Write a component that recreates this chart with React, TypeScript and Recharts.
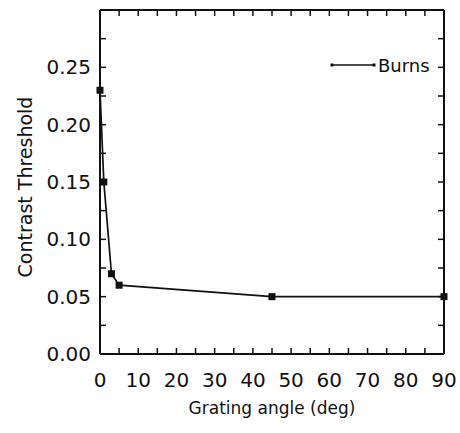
import { LineChart, Line, XAxis, YAxis, Legend, Label } from 'recharts'

// grating angle (deg) vs contrast threshold, Burns
const angles = [0, 1, 3, 5, 45, 90]
const thresholds = [0.23, 0.15, 0.07, 0.06, 0.05, 0.05]

const xTicks = [0, 5, 10, 15, 20, 25, 30, 35, 40, 45, 50, 55, 60, 65, 70, 75, 80, 85, 90]
const yTicks = [0, 0.025, 0.05, 0.075, 0.1, 0.125, 0.15, 0.175, 0.2, 0.225, 0.25, 0.275, 0.3]

const data = angles.map((a, i) => ({ angle: a, burns: thresholds[i] }))

const ink = '#111'
const font = '"DejaVu Sans", sans-serif'

const SquareDot = (props: any) => {
  const { cx, cy } = props
  if (cx == null || cy == null) return null
  return <rect x={cx - 3.5} y={cy - 3.5} width={7} height={7} fill={ink} />
}

const LegendBox = () => (
  <svg width={110} height={26} style={{ display: 'block', overflow: 'visible' }}>
    <line x1={2} y1={13} x2={44} y2={13} stroke={ink} strokeWidth={1.3} />
    <rect x={0.5} y={11.5} width={3} height={3} fill={ink} />
    <rect x={42.5} y={11.5} width={3} height={3} fill={ink} />
    <text x={48} y={13} dominantBaseline="central" fontSize={18} fontFamily={font} fill={ink}>
      Burns
    </text>
  </svg>
)

const xFmt = (v: number) => (v % 10 === 0 ? String(v) : '')
const yFmt = (v: number) => {
  const k = Math.round(v * 1000)
  return k % 50 === 0 && k < 290 ? v.toFixed(2) : ''
}

export default function App() {
  return (
    <div style={{ position: 'absolute', left: 0, top: 0, background: '#fff' }}>
      <LineChart
        width={460}
        height={433}
        data={data}
        margin={{ top: 9, right: 15, bottom: 0, left: 0 }}
      >
        <XAxis
          xAxisId="bottom"
          dataKey="angle"
          type="number"
          domain={[0, 90]}
          ticks={xTicks}
          tickFormatter={xFmt}
          interval={0}
          height={79}
          tickSize={-6}
          tickMargin={25}
          axisLine={{ stroke: ink, strokeWidth: 2 }}
          tickLine={{ stroke: ink, strokeWidth: 1.5 }}
          tick={{ fill: ink, fontSize: 20, fontFamily: font }}
        >
          <Label
            content={(p: any) => {
              const vb = p.viewBox
              return (
                <text
                  x={vb.x + vb.width / 2}
                  y={vb.y + 54}
                  textAnchor="middle"
                  dominantBaseline="central"
                  fontSize={17}
                  fontFamily={font}
                  fill={ink}
                >
                  Grating angle (deg)
                </text>
              )
            }}
          />
        </XAxis>
        <XAxis
          xAxisId="top"
          orientation="top"
          dataKey="angle"
          type="number"
          domain={[0, 90]}
          ticks={xTicks}
          tickFormatter={() => ''}
          interval={0}
          height={1}
          tickSize={-6}
          axisLine={{ stroke: ink, strokeWidth: 2 }}
          tickLine={{ stroke: ink, strokeWidth: 1.5 }}
        />
        <YAxis
          yAxisId="left"
          type="number"
          domain={[0, 0.3]}
          ticks={yTicks}
          tickFormatter={yFmt}
          interval={0}
          width={100}
          tickSize={-6}
          tickMargin={15}
          axisLine={{ stroke: ink, strokeWidth: 2 }}
          tickLine={{ stroke: ink, strokeWidth: 1.5 }}
          tick={{ fill: ink, fontSize: 20, fontFamily: font }}
        >
          <Label
            content={(p: any) => {
              const vb = p.viewBox
              const cx = vb.x + 25
              const cy = vb.y + vb.height / 2 + 5
              return (
                <text
                  x={cx}
                  y={cy}
                  transform={`rotate(-90 ${cx} ${cy})`}
                  textAnchor="middle"
                  dominantBaseline="central"
                  fontSize={19}
                  fontFamily={font}
                  fill={ink}
                >
                  Contrast Threshold
                </text>
              )
            }}
          />
        </YAxis>
        <YAxis
          yAxisId="right"
          orientation="right"
          type="number"
          domain={[0, 0.3]}
          ticks={yTicks}
          tickFormatter={() => ''}
          interval={0}
          width={1}
          tickSize={-6}
          axisLine={{ stroke: ink, strokeWidth: 2 }}
          tickLine={{ stroke: ink, strokeWidth: 1.5 }}
        />
        <Legend
          layout="horizontal"
          align="center"
          verticalAlign="middle"
          content={() => <LegendBox />}
          wrapperStyle={{ position: 'absolute', left: 330, top: 52, width: 110 }}
        />
        {/* invisible copy so the top/right frame axes get a scale */}
        <Line
          xAxisId="top"
          yAxisId="right"
          type="linear"
          dataKey="burns"
          stroke="none"
          dot={false}
          activeDot={false}
          legendType="none"
          isAnimationActive={false}
        />
        <Line
          xAxisId="bottom"
          yAxisId="left"
          type="linear"
          dataKey="burns"
          name="Burns"
          stroke={ink}
          strokeWidth={1.7}
          dot={<SquareDot />}
          activeDot={false}
          isAnimationActive={false}
        />
      </LineChart>
    </div>
  )
}
